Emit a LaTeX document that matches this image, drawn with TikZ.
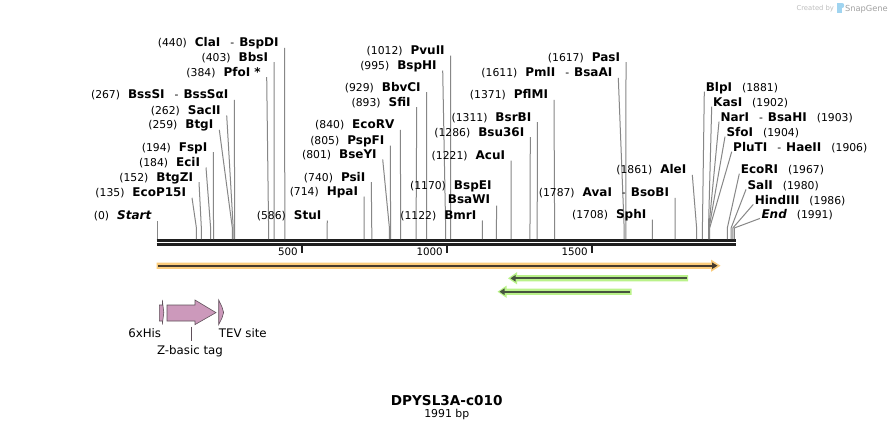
\documentclass[tikz,border=0pt]{standalone}
\usepackage{fontspec}
\setmainfont{DejaVu Sans}
\usetikzlibrary{calc}
\definecolor{cutgray}{RGB}{135,135,135}
\definecolor{featorange}{RGB}{251,204,124}
\definecolor{featorangedark}{RGB}{70,58,44}
\definecolor{featgreen}{RGB}{186,242,138}
\definecolor{featgreendark}{RGB}{70,84,62}
\definecolor{featpink}{RGB}{204,153,187}
\definecolor{featpinkline}{RGB}{95,80,90}
\definecolor{sgray}{RGB}{190,190,190}
\definecolor{sblue}{RGB}{160,212,240}
\newcommand\rsPos[1]{{\fontsize{10.8}{13}\selectfont #1}}
\newcommand\rsName[1]{{\fontsize{12}{14}\selectfont\bfseries #1}}
\newcommand\rsGap{\hspace{8pt}}
\newcommand\rsGapR{\hspace{10pt}}
\newcommand\rsDash{\hspace{10pt}\rsPos{-}\hspace{5pt}}
\tikzset{
  lbl/.style={inner sep=0pt,outer sep=0pt},
  cutline/.style={draw=cutgray,line width=1pt},
  rulerline/.style={draw=black!88,line width=2.7pt},
  tickmark/.style={draw=black!88,line width=1.8pt},
  featbox/.style={fill=featpink,draw=featpinkline,line width=0.6pt},
  featlbl/.style={inner sep=0pt,font=\fontsize{11.8}{14}\selectfont}
}
\newcommand\Lsite[5]{%
  \node[lbl,anchor=base east] (#1) at (#4-6,#3+4.4) {#5};
  \coordinate (#1-r) at ({157.3+0.2898*#2},239);
  \coordinate (#1-t) at (#4,#3+5.5);
  \draw[cutline] (#1-r) -- ++(0,-11) -- (#1-t);
}
\newcommand\Rsite[5]{%
  \node[lbl,anchor=base west] (#1) at (#4+1.5,#3+4.4) {#5};
  \coordinate (#1-r) at ({157.3+0.2898*#2},239);
  \coordinate (#1-t) at (#4,#3+4.4);
  \draw[cutline] (#1-r) -- ++(0,-11) -- (#1-t);
}
\begin{document}
\begin{tikzpicture}[x=1pt,y=-1pt]
\useasboundingbox[fill=white] (0,0) rectangle (893,431);

% credit
\node[lbl,anchor=base east,text=sgray] (credit) at (834,10) {\fontsize{6.8}{8}\selectfont Created by};
\fill[sblue] (837,3) rectangle (842,13);
\fill[sblue] (842,3) .. controls (845,3) and (845,8) .. (842,8) -- cycle;
\node[lbl,anchor=base west,text=sgray!85!black] (sgname) at (845,11) {\fontsize{8.3}{10}\selectfont SnapGene};

% ruler
\draw[rulerline] (156.7,240.3) -- (736,240.3);
\draw[rulerline] (156.7,244.3) -- (736,244.3);
\draw[tickmark] (302.3,245) -- (302.3,252.5);
\draw[tickmark] (446.8,245) -- (446.8,252.5);
\draw[tickmark] (592.2,245) -- (592.2,252.5);
\node[lbl,anchor=base east] (t500) at (297.8,255.4) {\fontsize{10.3}{12}\selectfont 500};
\node[lbl,anchor=base east] (t1000) at (442.8,255.4) {\fontsize{10.3}{12}\selectfont 1000};
\node[lbl,anchor=base east] (t1500) at (587.8,255.4) {\fontsize{10.3}{12}\selectfont 1500};

% left-side sites
\Lsite{claI}{440}{42.3}{284.6}{\rsPos{(440)}\rsGap\rsName{ClaI}\rsDash\rsName{BspDI}}
\Lsite{bbsI}{403}{56.7}{274}{\rsPos{(403)}\rsGap\rsName{BbsI}}
\Lsite{pfoI}{384}{71.7}{266.7}{\rsPos{(384)}\rsGap\rsName{PfoI *}}
\Lsite{bssSI}{267}{94.3}{234.3}{\rsPos{(267)}\rsGap\rsName{BssSI}\rsDash\rsName{BssSαI}}
\Lsite{sacII}{262}{110}{226.7}{\rsPos{(262)}\rsGap\rsName{SacII}}
\Lsite{btgI}{259}{124.3}{219.3}{\rsPos{(259)}\rsGap\rsName{BtgI}}
\Lsite{fspI}{194}{146.7}{213.3}{\rsPos{(194)}\rsGap\rsName{FspI}}
\Lsite{eciI}{184}{162}{206}{\rsPos{(184)}\rsGap\rsName{EciI}}
\Lsite{btgZI}{152}{176.7}{199}{\rsPos{(152)}\rsGap\rsName{BtgZI}}
\Lsite{ecoPI}{135}{192.3}{192}{\rsPos{(135)}\rsGap\rsName{EcoP15I}}
\Lsite{startL}{0}{215}{157.3}{\rsPos{(0)}\rsGap\rsName{\itshape Start}}
\Lsite{stuI}{586}{215}{327.3}{\rsPos{(586)}\rsGap\rsName{StuI}}
\Lsite{hpaI}{714}{191}{364}{\rsPos{(714)}\rsGap\rsName{HpaI}}
\Lsite{psiI}{740}{176.7}{371.3}{\rsPos{(740)}\rsGap\rsName{PsiI}}
\Lsite{bseYI}{801}{154}{382.7}{\rsPos{(801)}\rsGap\rsName{BseYI}}
\Lsite{pspFI}{805}{140}{390.3}{\rsPos{(805)}\rsGap\rsName{PspFI}}
\Lsite{ecoRV}{840}{124.3}{400.3}{\rsPos{(840)}\rsGap\rsName{EcoRV}}
\Lsite{sfiI}{893}{101.7}{416.7}{\rsPos{(893)}\rsGap\rsName{SfiI}}
\Lsite{bbvCI}{929}{86.7}{426.7}{\rsPos{(929)}\rsGap\rsName{BbvCI}}
\Lsite{bspHI}{995}{65}{442.7}{\rsPos{(995)}\rsGap\rsName{BspHI}}
\Lsite{pvuII}{1012}{50}{450.7}{\rsPos{(1012)}\rsGap\rsName{PvuII}}
\Lsite{bmrI}{1122}{215}{482.3}{\rsPos{(1122)}\rsGap\rsName{BmrI}}
\Lsite{acuI}{1221}{155}{511}{\rsPos{(1221)}\rsGap\rsName{AcuI}}
\Lsite{bsuI}{1286}{131.7}{530.3}{\rsPos{(1286)}\rsGap\rsName{Bsu36I}}
\Lsite{bsrBI}{1311}{116.7}{537.3}{\rsPos{(1311)}\rsGap\rsName{BsrBI}}
\Lsite{pflMI}{1371}{94.3}{554}{\rsPos{(1371)}\rsGap\rsName{PflMI}}
\Lsite{pmlI}{1611}{72.3}{618.3}{\rsPos{(1611)}\rsGap\rsName{PmlI}\rsDash\rsName{BsaAI}}
\Lsite{pasI}{1617}{56.7}{626}{\rsPos{(1617)}\rsGap\rsName{PasI}}
\Lsite{sphI}{1708}{214}{652.3}{\rsPos{(1708)}\rsGap\rsName{SphI}}
\Lsite{avaI}{1787}{192.3}{675}{\rsPos{(1787)}\rsGap\rsName{AvaI}\rsDash\rsName{BsoBI}}
\Lsite{aleI}{1861}{169.3}{692.3}{\rsPos{(1861)}\rsGap\rsName{AleI}}

% two-line label BspEI / BsaWI
\node[lbl,anchor=base east] (bspEI) at (491.5,189.4) {\rsPos{(1170)}\rsGap\rsName{BspEI}};
\node[lbl,anchor=base east] (bsaWI) at (490,203.7) {\rsName{BsaWI}};
\coordinate (bspEI-r) at ({157.3+0.2898*1170},239);
\coordinate (bspEI-t) at (496.7,205.7);
\draw[cutline] (bspEI-r) -- ++(0,-11) -- (bspEI-t);

% right-side sites
\Rsite{blpI}{1881}{87.3}{704.3}{\rsName{BlpI}\rsGapR\rsPos{(1881)}}
\Rsite{kasI}{1902}{102.3}{711.7}{\rsName{KasI}\rsGapR\rsPos{(1902)}}
\Rsite{narI}{1903}{117.3}{719}{\rsName{NarI}\rsDash\rsName{BsaHI}\rsGapR\rsPos{(1903)}}
\Rsite{sfoI}{1904}{132.3}{725}{\rsName{SfoI}\rsGapR\rsPos{(1904)}}
\Rsite{pluTI}{1906}{147.3}{731.7}{\rsName{PluTI}\rsDash\rsName{HaeII}\rsGapR\rsPos{(1906)}}
\Rsite{ecoRI}{1967}{169.3}{739.3}{\rsName{EcoRI}\rsGapR\rsPos{(1967)}}
\Rsite{salI}{1980}{185}{746}{\rsName{SalI}\rsGapR\rsPos{(1980)}}
\Rsite{hindIII}{1986}{200}{753.3}{\rsName{HindIII}\rsGapR\rsPos{(1986)}}
\Rsite{endL}{1991}{214}{760}{\rsName{\itshape End}\rsGapR\rsPos{(1991)}}

% orange feature (forward)
\fill[featorange] (156.5,262.6) -- (711,262.6) -- (711,259.6) -- (720.5,265.7) -- (711,271.8) -- (711,268.8) -- (156.5,268.8) -- cycle;
\draw[featorangedark,line width=2.2pt] (158,265.7) -- (713,265.7);
\fill[featorangedark] (712,262.4) -- (717.5,265.7) -- (712,269) -- cycle;

% green features (reverse)
\fill[featgreen] (688,275.2) -- (517,275.2) -- (517,272.2) -- (508,278.3) -- (517,284.4) -- (517,281.4) -- (688,281.4) -- cycle;
\draw[featgreendark,line width=2.2pt] (686.5,278.3) -- (514,278.3);
\fill[featgreendark] (515.5,275) -- (510.5,278.3) -- (515.5,281.6) -- cycle;

\fill[featgreen] (631.5,288.6) -- (506.5,288.6) -- (506.5,285.6) -- (497.5,291.7) -- (506.5,297.8) -- (506.5,294.8) -- (631.5,294.8) -- cycle;
\draw[featgreendark,line width=2.2pt] (630,291.7) -- (503,291.7);
\fill[featgreendark] (504.5,288.4) -- (499.5,291.7) -- (504.5,295) -- cycle;

% small features
\filldraw[featbox] (159.3,305) -- (162.3,305) -- (162.3,300) -- (163.8,312.5) -- (162.3,324.5) -- (162.3,321) -- (159.3,321) -- cycle;
\filldraw[featbox] (167,305) -- (195,305) -- (195,300) -- (216,312.6) -- (195,324.6) -- (195,321) -- (167,321) -- cycle;
\filldraw[featbox] (218.7,300) -- (222,307) -- (223.6,312.5) -- (222,318) -- (218.7,324.6) -- cycle;

\node[featlbl,anchor=base east] (hisL) at (161.3,337.5) {6xHis};
\node[featlbl,anchor=base west] (tevL) at (218.7,337.5) {TEV site};
\node[featlbl,anchor=base] (zbL) at (190,354.3) {Z-basic tag};
\coordinate (zb-bot) at (191,326.5);
\draw[featpinkline,line width=0.6pt] (zb-bot) -- (191,340.5);

% title
\node[lbl,anchor=base] (title) at (446.7,405.6) {\fontsize{13.6}{16}\selectfont\bfseries DPYSL3A-c010};
\node[lbl,anchor=base] (len) at (446.8,417.3) {\fontsize{10.9}{13}\selectfont 1991 bp};
\end{tikzpicture}
\end{document}
